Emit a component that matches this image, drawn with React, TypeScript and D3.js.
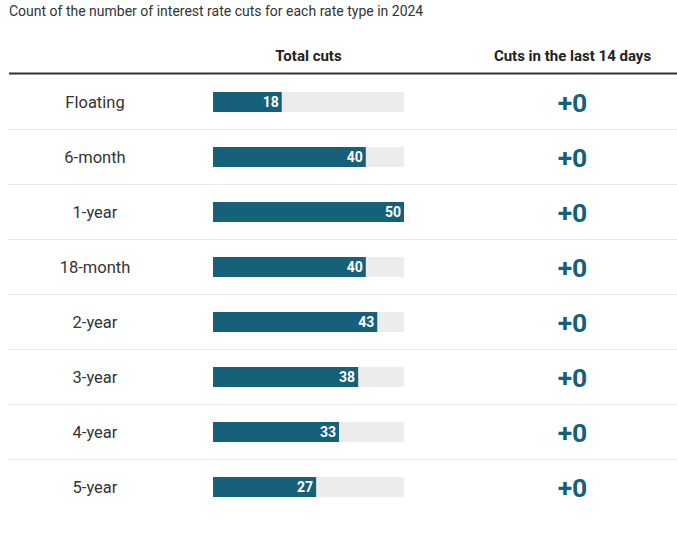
import React from "react";
import * as d3 from "d3";

const categories = ["Floating", "6-month", "1-year", "18-month", "2-year", "3-year", "4-year", "5-year"];
const totalCuts = [18, 40, 50, 40, 43, 38, 33, 27];
const recentCuts = [0, 0, 0, 0, 0, 0, 0, 0];
const maxCuts = 50;

const subtitle = "Count of the number of interest rate cuts for each rate type in 2024";
const headerTotal = "Total cuts";
const headerRecent = "Cuts in the last 14 days";

const W = 677;
const H = 535;
const BAR_COLOR = "#17607a";
const FONT = "Roboto, 'Noto Sans', sans-serif";

export default function App() {
  const x = d3.scaleLinear().domain([0, maxCuts]).range([213, 404]);
  const y = d3.scaleBand<string>().domain(categories).range([74.5, 514.5]);
  const bw = y.bandwidth();
  const barH = 20;

  return (
    <svg
      width={W}
      height={H}
      style={{ position: "absolute", left: 0, top: 0, background: "#fff" }}
      fontFamily={FONT}
    >
      <text x={9} y={15.5} fontSize={14} fill="#333">
        {subtitle}
      </text>
      <text x={308.5} y={60.5} fontSize={15} fontWeight="bold" fill="#222" textAnchor="middle">
        {headerTotal}
      </text>
      <text x={572.5} y={60.5} fontSize={15} fontWeight="bold" fill="#222" textAnchor="middle">
        {headerRecent}
      </text>
      <line x1={9} x2={W} y1={73.5} y2={73.5} stroke="#333" strokeWidth={2} />
      {categories.map((c, i) => {
        const top = y(c)!;
        const cy = top + bw / 2;
        return (
          <g key={c}>
            {i < categories.length - 1 && (
              <line x1={8} x2={W} y1={top + bw} y2={top + bw} stroke="#e8e8e8" strokeWidth={1} />
            )}
            <text x={95} y={cy + 5.5} fontSize={16.5} fill="#333" textAnchor="middle">
              {c}
            </text>
            <rect x={x(0)} y={cy - barH / 2} width={x(maxCuts) - x(0)} height={barH} fill="#ececec" />
            <rect x={x(0)} y={cy - barH / 2} width={x(totalCuts[i]) - x(0)} height={barH} fill={BAR_COLOR} />
            <text
              x={x(totalCuts[i]) - 3}
              y={cy + 5}
              fontSize={14}
              fontWeight="bold"
              fill="#fff"
              textAnchor="end"
            >
              {totalCuts[i]}
            </text>
            <text
              x={572.5}
              y={cy + 9.5}
              fontSize={26.5}
              fontWeight="bold"
              fill={BAR_COLOR}
              textAnchor="middle"
            >
              {"+" + recentCuts[i]}
            </text>
          </g>
        );
      })}
    </svg>
  );
}
